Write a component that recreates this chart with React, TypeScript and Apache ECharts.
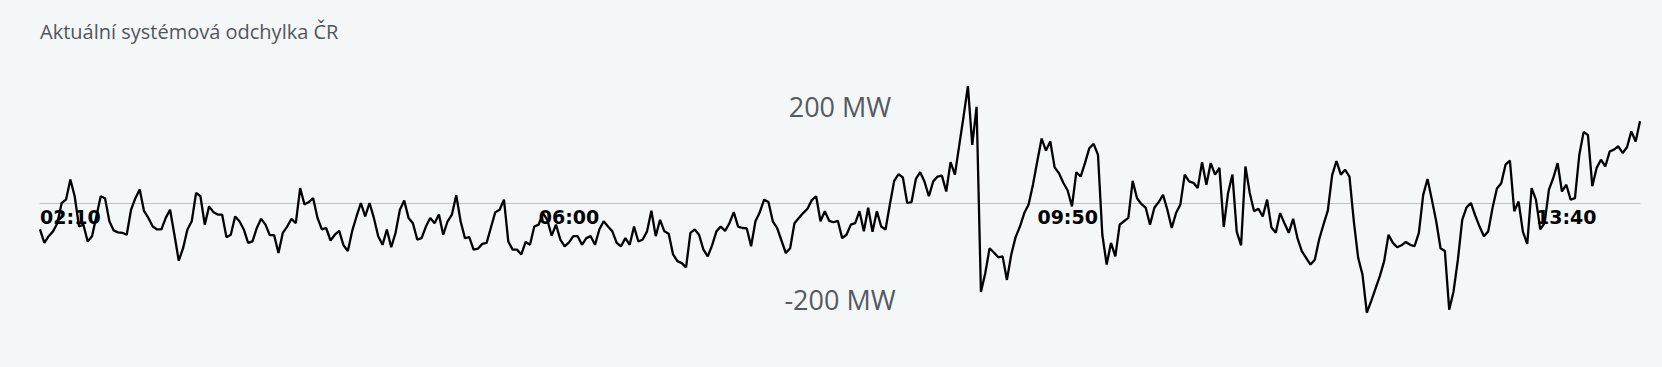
import React, { useEffect, useRef } from "react";
import * as echarts from "echarts";

const chartTitle = "Aktuální systémová odchylka ČR";
const startMinute = 116; // 01:56
const stepMinutes = 2;
const endMinute = 854; // 14:14
const tickMinutes = [130, 360, 590, 820]; // 02:10, 06:00, 09:50, 13:40
const levelMarks = [200, -200];
const yMin = -260;
const yMax = 260;

const deviationMW = [
  -55, -83, -69, -59, -42, 0, 7, 49, 14, -49, -45, -80, -69, -28, 14, 10, -38, -57, -61, -62, -66, -14, 10, 28, -17, -31, -49, -55, -55, -31, -14,
  -66, -120, -94, -55, -38, 21, 14, -45, -7, -19, -24, -24, -71, -66, -28, -38, -55, -83, -80, -52, -33, -45, -67, -67, -104, -62, -49, -33, -42, 31, -3,
  2, 10, -31, -55, -52, -78, -66, -58, -88, -100, -58, -28, 0, -28, 0, -31, -69, -87, -55, -92, -62, -14, 5, -31, -42, -76, -73, -49, -31, -42, -24,
  -66, -38, -24, 16, -38, -73, -71, -97, -95, -85, -83, -51, -19, -14, 7, -80, -97, -97, -107, -81, -87, -49, -45, -21, -35, -68, -45, -76, -90, -82, -69,
  -69, -87, -73, -69, -87, -55, -38, -49, -59, -83, -90, -73, -87, -49, -80, -76, -59, -16, -69, -35, -59, -64, -107, -121, -125, -134, -62, -55, -66, -97, -111,
  -88, -59, -49, -58, -42, -19, -49, -52, -53, -90, -38, -19, 7, 2, -38, -52, -78, -104, -94, -42, -31, -21, -12, 6, 14, -38, -17, -37, -40, -37,
  -73, -66, -45, -42, -17, -59, -10, -60, -17, -49, -55, -3, 46, 60, 53, 0, 2, 50, 64, 44, 14, 45, 55, 57, 24, 85, 59, 120, 180, 243, 121,
  200, -185, -146, -94, -103, -113, -111, -160, -107, -71, -49, -21, -3, 38, 87, 134, 109, 128, 74, 62, 42, 26, -7, 64, 55, 83, 114, 123, 100, -66, -128,
  -83, -111, -45, -38, -31, 46, 10, -2, -10, -45, -10, 2, 17, -14, -52, -21, -3, 59, 45, 42, 31, 85, 38, 83, 59, 73, -50, 21, 59, -60, -88,
  76, 21, -17, -12, -28, 7, -51, -62, -21, -42, -62, -33, -73, -100, -114, -128, -118, -76, -45, -16, 58, 87, 59, 69, 55, -38, -114, -149, -228, -204, -178,
  -152, -121, -66, -83, -92, -88, -81, -87, -90, -62, 17, 50, 7, -38, -94, -100, -222, -184, -118, -35, -9, 0, -26, -49, -69, -59, -10, 30, 41, 80, 88,
  -17, 3, -60, -85, 31, 7, -55, -42, 28, 52, 83, 24, 38, 7, 10, 100, 148, 141, 35, 73, 90, 76, 107, 111, 118, 104, 116, 149, 128, 170,
];

const fmtTime = (m: number) => {
  const h = Math.floor(m / 60);
  const mm = Math.round(m - h * 60);
  return `${String(h).padStart(2, "0")}:${String(mm).padStart(2, "0")}`;
};

export default function App() {
  const ref = useRef<HTMLDivElement>(null);
  useEffect(() => {
    if (!ref.current) return;
    const chart = echarts.init(ref.current, undefined, { renderer: "svg" });
    const data = deviationMW.map((v, i) => [startMinute + i * stepMinutes, v]);
    const gridTop = 78;
    const gridHeight = 250;
    // distance of the zero level above the grid's bottom edge
    const zeroFromBottom = (gridHeight * (0 - yMin)) / (yMax - yMin);
    chart.setOption({
      animation: false,
      backgroundColor: "#f3f7f8",
      title: {
        text: chartTitle,
        left: 40,
        top: 21,
        padding: 0,
        textStyle: {
          fontFamily: "Open Sans",
          fontSize: 20,
          fontWeight: "normal",
          color: "#50565b",
        },
      },
      grid: { left: 40, right: 22, top: gridTop, height: gridHeight },
      xAxis: {
        type: "value",
        min: startMinute,
        max: endMinute,
        position: "bottom",
        offset: -zeroFromBottom,
        axisLine: {
          show: true,
          onZero: false,
          lineStyle: { color: "#bfc3c5", width: 1 },
        },
        axisTick: { show: false },
        splitLine: { show: false },
        axisLabel: {
          customValues: tickMinutes,
          formatter: (v: number) => fmtTime(v),
          fontFamily: "DejaVu Sans",
          fontWeight: "bold",
          fontSize: 19,
          color: "#000",
          margin: 4,
        },
      },
      yAxis: {
        type: "value",
        min: yMin,
        max: yMax,
        axisLine: { show: false },
        axisTick: { show: false },
        axisLabel: { show: false },
        splitLine: { show: false },
      },
      series: [
        {
          type: "line",
          data,
          symbol: "none",
          showSymbol: false,
          lineStyle: { color: "#000", width: 2.3 },
          markLine: {
            silent: true,
            symbol: ["none", "none"],
            lineStyle: { color: "transparent", width: 0 },
            label: {
              show: true,
              position: "insideMiddle",
              formatter: (p: any) => `${p.value} MW`,
              fontFamily: "Open Sans",
              fontSize: 27,
              color: "#555a5e",
            },
            data: levelMarks.map((v) => ({ yAxis: v })),
          },
        },
      ],
    });
    return () => chart.dispose();
  }, []);
  return (
    <div
      ref={ref}
      style={{ position: "fixed", left: 0, top: 0, width: 1662, height: 367 }}
    />
  );
}
